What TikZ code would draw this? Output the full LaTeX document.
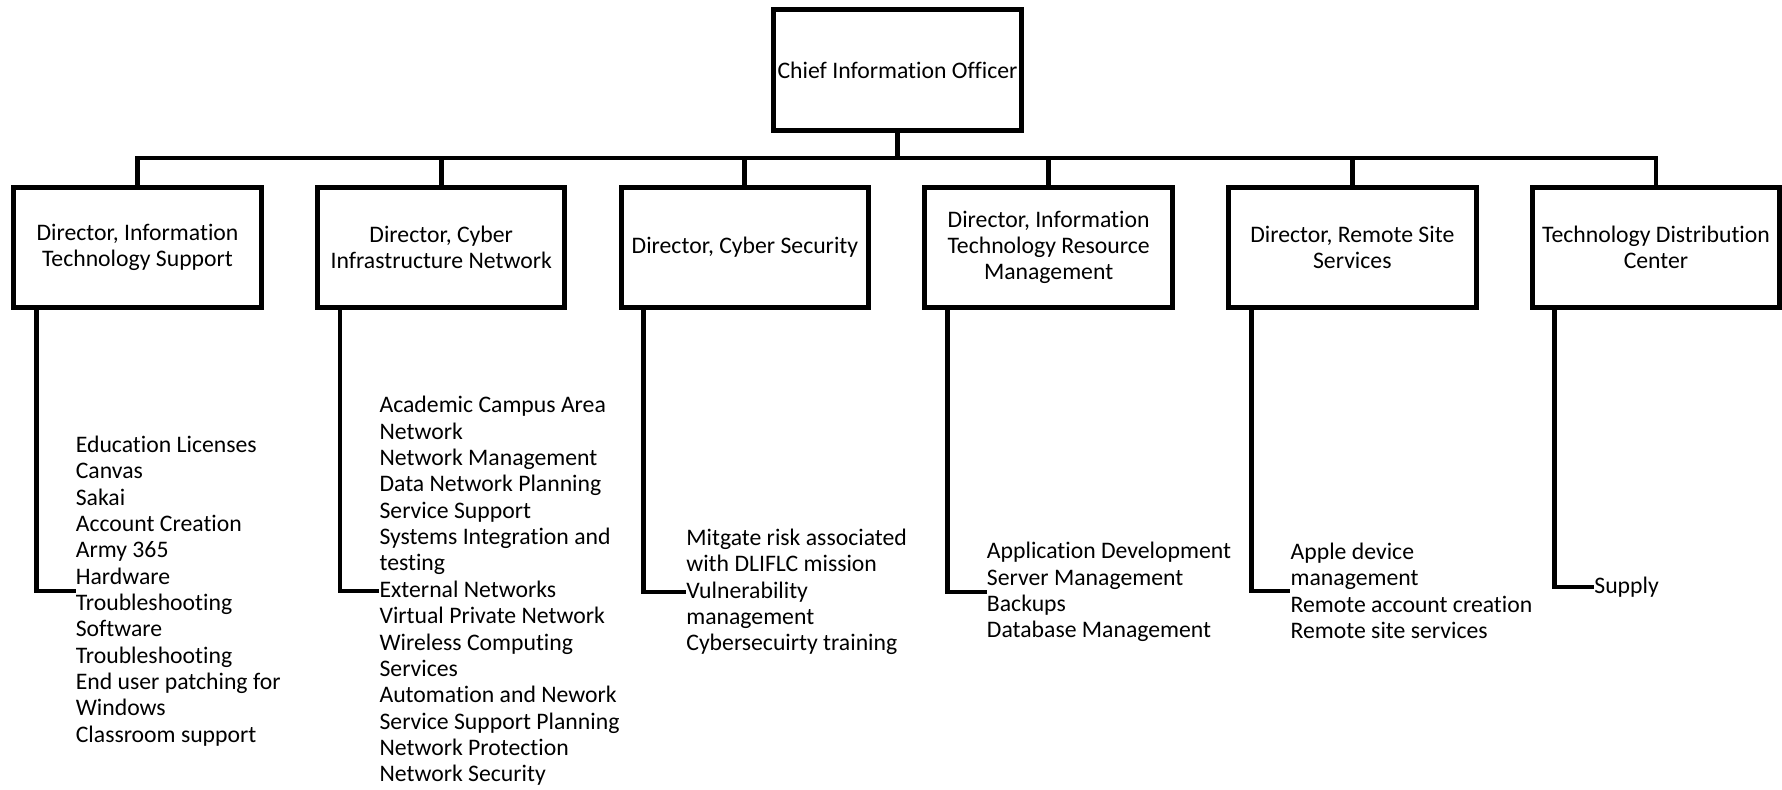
\documentclass[tikz,border=0pt]{standalone}
\usepackage{fontspec}
\setmainfont{Carlito}[Ligatures=NoCommon]
\usepackage{tikz}

\begin{document}
\begin{tikzpicture}[x=0.02cm, y=-0.02cm,
  every node/.style={font=\fontsize{13.5}{15}\selectfont},
  office/.style={draw, line width=2.8pt, minimum width=4.95cm, minimum height=2.41cm, align=center, inner sep=2pt},
  duties/.style={anchor=west, align=left, inner sep=0pt},
  link/.style={line width=2.8pt}]
  \useasboundingbox (0,0) rectangle (1782,790);
  % top of the chart
  \node[office] (cio) at (897.5,70) {Chief Information Officer};
  % directors
  \node[office] (d1) at (137.5,247.5) {Director, Information\\Technology Support};
  \node[office] (d2) at (441.2,247.5) {Director, Cyber\\Infrastructure Network};
  \node[office] (d3) at (744.9,247.5) {Director, Cyber Security};
  \node[office] (d4) at (1048.6,247.5) {Director, Information\\Technology Resource\\Management};
  \node[office] (d5) at (1352.3,247.5) {Director, Remote Site\\Services};
  \node[office] (d6) at (1656,247.5) {Technology Distribution\\Center};
  \coordinate (bus) at (897.5,158);
  \draw[link] (cio.south) -- (bus);
  \foreach \d in {d1,d2,d3,d4,d5,d6}
    \draw[link] (bus) -| (\d.north);
  % what each office looks after
  \node[duties] (l1) at (75.5,591) {Education Licenses\\Canvas\\Sakai\\Account Creation\\Army 365\\Hardware\\Troubleshooting\\Software\\Troubleshooting\\End user patching for\\Windows\\Classroom support};
  \node[duties] (l2) at (379.2,591) {Academic Campus Area\\Network\\Network Management\\Data Network Planning\\Service Support\\Systems Integration and\\testing\\External Networks\\Virtual Private Network\\Wireless Computing\\Services\\Automation and Nework\\Service Support Planning\\Network Protection\\Network Security};
  \node[duties] (l3) at (686,592) {Mitgate risk associated\\with DLIFLC mission\\Vulnerability\\management\\Cybersecuirty training};
  \node[duties] (l4) at (986.6,592) {Application Development\\Server Management\\Backups\\Database Management};
  \node[duties] (l5) at (1290.3,591) {Apple device\\management\\Remote account creation\\Remote site services};
  \node[duties] (l6) at (1594,587) {Supply};
  \foreach \i in {1,...,6}
    \draw[link] ([xshift=0.5cm]d\i.south west) |- (l\i.west);
\end{tikzpicture}
\end{document}
